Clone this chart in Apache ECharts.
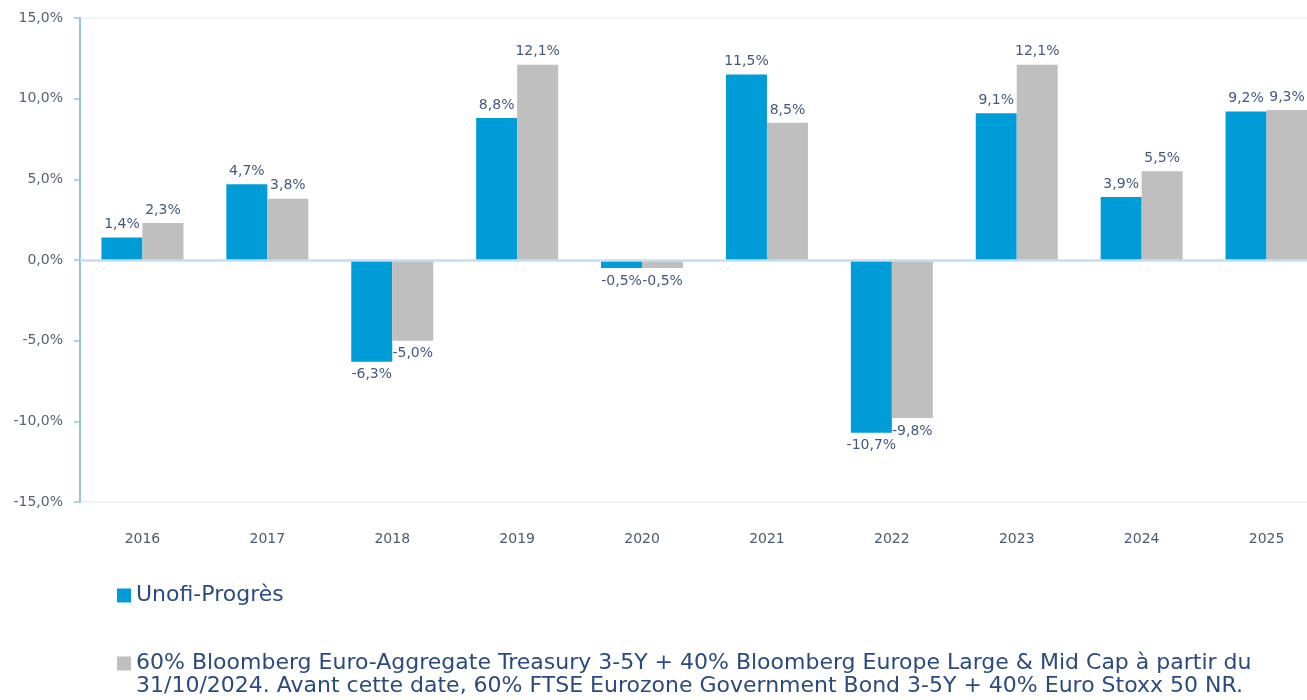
<!DOCTYPE html>
<html>
<head>
<meta charset="utf-8">
<script src="https://cdn.jsdelivr.net/npm/echarts@6/dist/echarts.min.js"></script>
<style>
html,body{margin:0;padding:0;background:#fff;overflow:hidden;width:1307px;height:700px;}
#chart{width:1340px;height:700px;}
</style>
</head>
<body>
<div id="chart"></div>
<script>
const categories = ['2016','2017','2018','2019','2020','2021','2022','2023','2024','2025'];
const unofiValues = [1.4, 4.7, -6.3, 8.8, -0.5, 11.5, -10.7, 9.1, 3.9, 9.2];
const benchValues = [2.3, 3.8, -5.0, 12.1, -0.5, 8.5, -9.8, 12.1, 5.5, 9.3];
const seriesNames = [
  'Unofi-Progrès',
  '60% Bloomberg Euro-Aggregate Treasury 3-5Y + 40% Bloomberg Europe Large & Mid Cap à partir du\n31/10/2024. Avant cette date, 60% FTSE Eurozone Government Bond 3-5Y + 40% Euro Stoxx 50 NR.'
];
const yMin = -15, yMax = 15, yStep = 5;

function fmtPct(v, d) {
  return v.toFixed(d).replace('.', ',') + '%';
}
function toItems(arr) {
  return arr.map(v => ({ value: v, label: { position: v < 0 ? 'bottom' : 'top' } }));
}

const chart = echarts.init(document.getElementById('chart'), null, { renderer: 'canvas' });
const labelStyle = {
  show: true,
  fontFamily: 'DejaVu Sans',
  fontSize: 14,
  color: '#44587E',
  distance: 6,
  formatter: p => fmtPct(p.value, 1)
};
chart.setOption({
  animation: false,
  backgroundColor: '#ffffff',
  grid: {
    left: 80, top: 18, width: 1249, height: 484,
    show: true, borderColor: '#DDEAF6', borderWidth: 1, containLabel: false
  },
  legend: [
    {
      data: [seriesNames[0]],
      orient: 'vertical',
      left: 112, top: 579,
      icon: 'rect', itemWidth: 14, itemHeight: 14,
      textStyle: { fontFamily: 'DejaVu Sans', fontSize: 22, lineHeight: 23, color: '#2B4A7E' },
      selectedMode: false
    },
    {
      data: [seriesNames[1]],
      orient: 'vertical',
      left: 112, top: 624,
      icon: 'rect', itemWidth: 14, itemHeight: 14,
      formatter: n => '\n' + n,
      textStyle: { fontFamily: 'DejaVu Sans', fontSize: 22, lineHeight: 23, color: '#2B4A7E' },
      selectedMode: false
    }
  ],
  xAxis: {
    type: 'category',
    data: categories,
    axisLine: { show: false, onZero: false },
    axisTick: { show: false },
    axisLabel: { fontFamily: 'DejaVu Sans', fontSize: 14, color: '#4A5A72', margin: 30 },
    splitLine: { show: false }
  },
  yAxis: {
    type: 'value',
    min: yMin, max: yMax, interval: yStep,
    axisLine: { show: true, lineStyle: { color: '#94C4E0', width: 2 } },
    axisTick: { show: true, length: 6, lineStyle: { color: '#94C4E0', width: 1.5 } },
    axisLabel: { fontFamily: 'DejaVu Sans', fontSize: 14, color: '#5A6070', margin: 17, formatter: v => fmtPct(v, 1) },
    splitLine: { show: false }
  },
  series: [
    {
      name: seriesNames[0],
      type: 'bar',
      data: toItems(unofiValues),
      barWidth: 41,
      barGap: '0%',
      itemStyle: { color: '#009CD8' },
      label: labelStyle,
      markLine: {
        silent: true,
        symbol: 'none',
        label: { show: false },
        lineStyle: { color: '#C6DDF0', width: 2.5, type: 'solid' },
        data: [{ yAxis: 0 }]
      }
    },
    {
      name: seriesNames[1],
      type: 'bar',
      data: toItems(benchValues),
      barWidth: 41,
      itemStyle: { color: '#BFBFBF' },
      label: labelStyle
    }
  ]
});
</script>
</body>
</html>
